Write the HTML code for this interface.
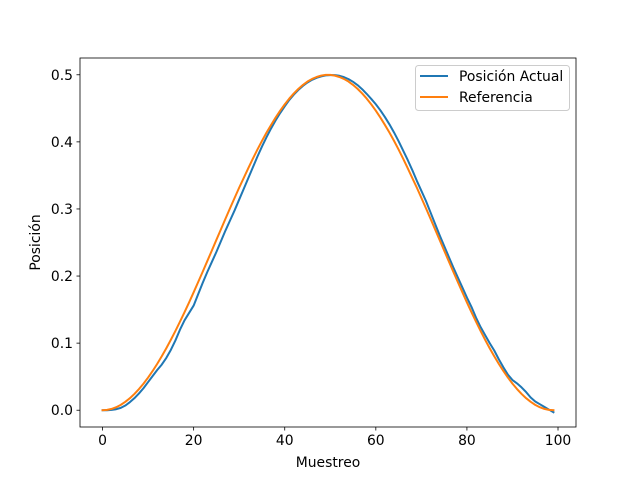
<!DOCTYPE html>
<html><head><meta charset="utf-8">
<style>
html,body{margin:0;padding:0;background:#fff;}
svg{display:block;font-family:"DejaVu Sans","Liberation Sans",sans-serif;}
</style></head>
<body>
<svg id="chart" width="640" height="480" viewBox="0 0 640 480">
<rect x="0" y="0" width="640" height="480" fill="#fff"/>
</svg>
<script>
const samples = Array.from({length:100},(_,i)=>i);
const referenciaHalf = [0,0.0005,0.0020,0.0045,0.0080,0.0125,0.0179,0.0243,0.0316,0.0397,0.0487,0.0585,0.0691,0.0804,0.0924,0.1050,0.1182,0.1319,0.1461,0.1607,0.1758,0.1911,0.2066,0.2223,0.2381,0.2540,0.2698,0.2856,0.3012,0.3165,0.3318,0.3463,0.3608,0.3750,0.3885,0.4014,0.4137,0.4252,0.4362,0.4465,0.4559,0.4645,0.4722,0.4790,0.4849,0.4899,0.4938,0.4967,0.4987,0.4998];
const referencia = referenciaHalf.concat(referenciaHalf.slice().reverse());
const actual = [0,0,0.0005,0.0015,0.0035,0.0070,0.0120,0.0180,0.0250,0.0330,0.0420,0.0510,0.0600,0.0680,0.0780,0.0900,0.1040,0.1200,0.1340,0.1450,0.1560,0.1730,0.1900,0.2060,0.2210,0.2360,0.2520,0.2680,0.2830,0.2980,0.3140,0.3300,0.3460,0.3620,0.3780,0.3930,0.4070,0.4200,0.4320,0.4430,0.4530,0.4625,0.4705,0.4775,0.4835,0.4885,0.4925,0.4955,0.4975,0.4990,
0.4995,0.4995,0.4985,0.4965,0.4935,0.4895,0.4845,0.4785,0.4715,0.4640,0.4560,0.4470,0.4370,0.4260,0.4140,0.4010,0.3870,0.3730,0.3580,0.3420,0.3270,0.3120,0.2950,0.2780,0.2610,0.2450,0.2290,0.2130,0.1980,0.1830,0.1680,0.1540,0.1380,0.1240,0.1120,0.1000,0.0890,0.0760,0.0640,0.0530,0.0450,0.0400,0.0340,0.0270,0.0190,0.0130,0.0090,0.0050,0.0010,-0.0030];
const xTicks = [0,20,40,60,80,100];
const yTicks = [0.0,0.1,0.2,0.3,0.4,0.5];
const yTickLabels = ["0.0","0.1","0.2","0.3","0.4","0.5"];

const NS="http://www.w3.org/2000/svg";
const svg=document.getElementById('chart');
const L=80,R=576,T=58,B=427;
const xmin=-4.95,xmax=103.95,ymin=-0.025,ymax=0.525;
const xs=v=>L+(v-xmin)/(xmax-xmin)*(R-L);
const ys=v=>B-(v-ymin)/(ymax-ymin)*(B-T);
function el(tag,attrs,text){const e=document.createElementNS(NS,tag);for(const k in attrs)e.setAttribute(k,attrs[k]);if(text!==undefined)e.textContent=text;svg.appendChild(e);return e;}

xTicks.forEach(t=>{
  const g=el('line',{x1:xs(t),x2:xs(t),y1:B,y2:B+3.5,stroke:'#000','stroke-width':0.8});
  
  
  const tx=el('text',{x:xs(t),y:B+18,'text-anchor':'middle','font-size':'13.9px',fill:'#000'},String(t));
  
  
});
yTicks.forEach((t,i)=>{
  const g=el('line',{x1:L-3.5,x2:L,y1:ys(t),y2:ys(t),stroke:'#000','stroke-width':0.8});
  
  
  const tx=el('text',{x:L-7,y:ys(t)+5,'text-anchor':'end','font-size':'13.9px',fill:'#000'},yTickLabels[i]);
  
  
});

function path(vals){return vals.map((v,i)=>(i?'L':'M')+xs(samples[i]).toFixed(2)+' '+ys(v).toFixed(2)).join(' ');}
const pa=el('path',{d:path(actual),fill:'none',stroke:'#1f77b4','stroke-width':2,'stroke-linejoin':'round','stroke-linecap':'square'});


const pr=el('path',{d:path(referencia),fill:'none',stroke:'#ff7f0e','stroke-width':2,'stroke-linejoin':'round','stroke-linecap':'square'});



const frame=el('rect',{x:L,y:T,width:R-L,height:B-T,fill:'none',stroke:'#000','stroke-width':0.8});



const xt=el('text',{x:(L+R)/2,y:467,'text-anchor':'middle','font-size':'13.9px'},'Muestreo');


const yt=el('text',{x:0,y:0,'text-anchor':'middle','font-size':'13.9px',transform:'translate(40,'+((T+B)/2)+') rotate(-90)'},'Posición');



const lg=el('rect',{x:415.5,y:65.5,width:154,height:45,rx:3,fill:'#fff','fill-opacity':0.8,stroke:'#ccc','stroke-width':1});


const l1=el('line',{x1:420,x2:448,y1:76,y2:76,stroke:'#1f77b4','stroke-width':2});


const t1=el('text',{x:459,y:81,'font-size':'13.9px'},'Posición Actual');


const l2=el('line',{x1:420,x2:448,y1:97,y2:97,stroke:'#ff7f0e','stroke-width':2});


const t2=el('text',{x:459,y:102,'font-size':'13.9px'},'Referencia');


</script>
</body></html>
